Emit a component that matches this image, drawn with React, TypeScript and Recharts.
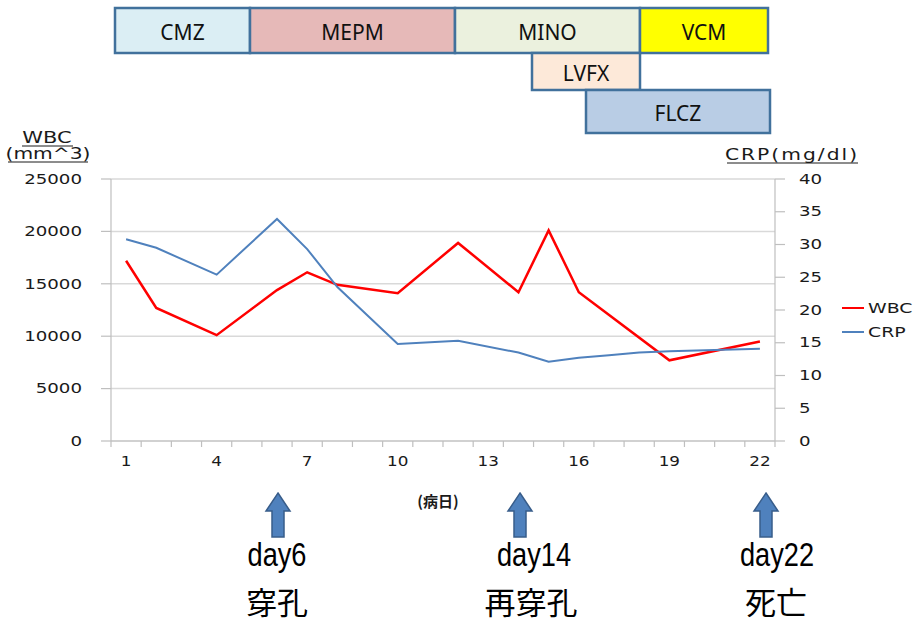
import React from 'react';
import { LineChart, Line, XAxis, YAxis, CartesianGrid, Legend } from 'recharts';

// ---------- data ----------
const days = [1, 2, 3, 4, 5, 6, 7, 8, 9, 10, 11, 12, 13, 14, 15, 16, 17, 18, 19, 20, 21, 22];
const wbcValues = [17200, 12700, null, 10100, null, 14400, 16100, 14900, null, 14100, null, 18900, null, 14200, 20100, 14200, null, null, 7700, null, null, 9500];
const crpValues = [30.8, 29.5, null, 25.4, null, 33.9, 29.3, 23.5, null, 14.8, null, 15.3, null, 13.5, 12.1, 12.7, 13.1, 13.5, 13.7, null, null, 14.1];
const wbcTicks = [0, 5000, 10000, 15000, 20000, 25000];
const crpTicks = [0, 5, 10, 15, 20, 25, 30, 35, 40];
const labeledDays = [1, 4, 7, 10, 13, 16, 19, 22];
const seriesNames = ['WBC', 'CRP'];
const seriesColors = ['#ff0000', '#4f81bd'];

const treatmentNames = ['CMZ', 'MEPM', 'MINO', 'VCM', 'LVFX', 'FLCZ'];
const treatmentFills = ['#dbeef4', '#e6b9b8', '#ebf1de', '#ffff00', '#fde9d9', '#b9cde5'];
const eventLabels = ['day6', 'day14', 'day22'];
const eventNotes = ['穿孔', '再穿孔', '死亡'];

const data = days.map((d, i) => ({ day: d, WBC: wbcValues[i], CRP: crpValues[i] }));

// ---------- layout ----------
const W = 924;
const H = 621;
const PLOT_LEFT = 111;
const PLOT_RIGHT = 775;
const PLOT_TOP = 179;
const PLOT_BOTTOM = 441;
const X_AXIS_H = 30;
const Y_AXIS_W = 60;
const BAND = (PLOT_RIGHT - PLOT_LEFT) / days.length;
const AXIS_COLOR = '#bfbfbf';
const GRID_COLOR = '#d9d9d9';
const TEXT_COLOR = '#1a1a1a';
const FONT = "'DejaVu Sans', Verdana, sans-serif";
const CJK = "'Noto Sans CJK JP', 'Noto Sans CJK SC', sans-serif";
const SANS = "'Liberation Sans', Arial, sans-serif";

const treatmentBoxes = [
  { x: 115, y: 8, w: 135, h: 45 },
  { x: 250, y: 8, w: 205, h: 45 },
  { x: 455, y: 8, w: 185, h: 45 },
  { x: 640, y: 8, w: 128, h: 45 },
  { x: 532, y: 53, w: 108, h: 37 },
  { x: 586, y: 90, w: 184, h: 43 },
];
const arrowX = [278, 520, 766];
const eventLabelX = [277, 534, 777];
const eventNoteX = [277, 531, 776];

function WideText(props: any) {
  const {
    x, y, sx = 1.3, anchor = 'start', size = 14, children, fill = TEXT_COLOR,
    weight = 'normal', family = FONT, baseline = 'central', spacing = 0,
  } = props;
  return (
    <text
      transform={`translate(${x},${y}) scale(${sx},1)`}
      x={0}
      y={0}
      textAnchor={anchor}
      dominantBaseline={baseline}
      fontSize={size}
      fontFamily={family}
      fontWeight={weight}
      fill={fill}
      letterSpacing={spacing}
    >
      {children}
    </text>
  );
}

function XTick(props: any) {
  const { x, y, payload, index } = props;
  const show = labeledDays.includes(payload.value);
  return (
    <g>
      <line x1={x - BAND / 2} x2={x - BAND / 2} y1={y} y2={y + 6} stroke={AXIS_COLOR} strokeWidth={1.2} />
      {index === days.length - 1 && (
        <line x1={x + BAND / 2} x2={x + BAND / 2} y1={y} y2={y + 6} stroke={AXIS_COLOR} strokeWidth={1.2} />
      )}
      {show && (
        <WideText x={x} y={y + 20} anchor="middle" sx={1.2} size={14}>
          {payload.value}
        </WideText>
      )}
    </g>
  );
}

function LeftTick(props: any) {
  const { x, y, payload } = props;
  return (
    <WideText x={x} y={y} anchor="end" sx={1.3} size={14}>
      {payload.value}
    </WideText>
  );
}

function RightTick(props: any) {
  const { x, y, payload } = props;
  return (
    <WideText x={x} y={y} anchor="start" sx={1.3} size={14}>
      {payload.value}
    </WideText>
  );
}

function LegendBox() {
  return (
    <svg width={86} height={50} style={{ display: 'block', overflow: 'visible' }}>
      {seriesNames.map((name, i) => (
        <g key={name}>
          <line x1={4} x2={26} y1={14 + i * 24} y2={14 + i * 24} stroke={seriesColors[i]} strokeWidth={2} />
          <WideText x={30} y={14 + i * 24} size={14} sx={1.35}>
            {name}
          </WideText>
        </g>
      ))}
    </svg>
  );
}

function Arrow({ cx }: { cx: number }) {
  const top = 493;
  const neck = 511;
  const bottom = 537;
  const hw = 12;
  const sw = 6;
  const pts = [
    [cx, top], [cx + hw, neck], [cx + sw, neck], [cx + sw, bottom],
    [cx - sw, bottom], [cx - sw, neck], [cx - hw, neck],
  ].map((p) => p.join(',')).join(' ');
  return <polygon points={pts} fill="#4f81bd" stroke="#385d8a" strokeWidth={1.5} />;
}

export default function App() {
  return (
    <div style={{ position: 'absolute', left: 0, top: 0, width: W, height: H, background: '#fff' }}>
      <LineChart
        width={W}
        height={H}
        data={data}
        margin={{
          top: PLOT_TOP,
          bottom: H - PLOT_BOTTOM - X_AXIS_H,
          left: PLOT_LEFT - Y_AXIS_W,
          right: W - PLOT_RIGHT - Y_AXIS_W,
        }}
      >
        <CartesianGrid yAxisId="left" vertical={false} stroke={GRID_COLOR} strokeWidth={1.5} />
        <XAxis
          dataKey="day"
          type="category"
          scale="band"
          interval={0}
          height={X_AXIS_H}
          tickSize={0}
          tickMargin={0}
          tickLine={false}
          axisLine={{ stroke: AXIS_COLOR, strokeWidth: 1.2 }}
          tick={XTick}
        />
        <YAxis
          yAxisId="left"
          domain={[0, 25000]}
          ticks={wbcTicks}
          width={Y_AXIS_W}
          tickSize={10}
          tickMargin={19}
          axisLine={{ stroke: AXIS_COLOR, strokeWidth: 1.2 }}
          tickLine={{ stroke: AXIS_COLOR, strokeWidth: 1.2 }}
          tick={LeftTick}
          interval={0}
        />
        <YAxis
          yAxisId="right"
          orientation="right"
          domain={[0, 40]}
          ticks={crpTicks}
          width={Y_AXIS_W}
          tickSize={10}
          tickMargin={14}
          axisLine={{ stroke: AXIS_COLOR, strokeWidth: 1.2 }}
          tickLine={{ stroke: AXIS_COLOR, strokeWidth: 1.2 }}
          tick={RightTick}
          interval={0}
        />
        <Line
          yAxisId="left"
          type="linear"
          dataKey="WBC"
          name={seriesNames[0]}
          stroke={seriesColors[0]}
          strokeWidth={2.5}
          dot={false}
          connectNulls
          isAnimationActive={false}
        />
        <Line
          yAxisId="right"
          type="linear"
          dataKey="CRP"
          name={seriesNames[1]}
          stroke={seriesColors[1]}
          strokeWidth={2}
          dot={false}
          connectNulls
          isAnimationActive={false}
        />
        <Legend
          layout="horizontal"
          align="center"
          verticalAlign="middle"
          wrapperStyle={{ left: 838, top: 294, width: 86, height: 50 }}
          content={() => <LegendBox />}
        />
      </LineChart>

      <svg
        width={W}
        height={H}
        style={{ position: 'absolute', left: 0, top: 0, pointerEvents: 'none' }}
      >
        {treatmentBoxes.map((b, i) => (
          <g key={treatmentNames[i]}>
            <rect x={b.x} y={b.y} width={b.w} height={b.h} fill={treatmentFills[i]} stroke="#41719c" strokeWidth={2.5} />
            <text
              x={b.x + b.w / 2}
              y={b.y + b.h / 2 + 1}
              textAnchor="middle"
              dominantBaseline="central"
              fontSize={21}
              fontFamily="'Noto Sans', 'Open Sans', sans-serif"
              fill="#111"
            >
              {treatmentNames[i]}
            </text>
          </g>
        ))}

        {/* axis titles */}
        <WideText x={47} y={138} anchor="middle" size={15} sx={1.4}>WBC</WideText>
        <line x1={22} x2={73} y1={146} y2={146} stroke={TEXT_COLOR} strokeWidth={1} />
        <WideText x={48} y={154} anchor="middle" size={15} sx={1.35}>(mm^3)</WideText>
        <line x1={8} x2={88} y1={162} y2={162} stroke={TEXT_COLOR} strokeWidth={1} />
        <WideText x={792} y={155} anchor="middle" size={15} sx={1.35} spacing={1.5}>CRP(mg/dl)</WideText>
        <line x1={727} x2={858} y1={163} y2={163} stroke={TEXT_COLOR} strokeWidth={1} />

        <text x={438} y={500} textAnchor="middle" dominantBaseline="central" fontSize={15} fontWeight="bold" fontFamily={CJK} fill={TEXT_COLOR}>
          (病日)
        </text>

        {arrowX.map((cx) => (
          <Arrow key={cx} cx={cx} />
        ))}
        {eventLabels.map((t, i) => (
          <WideText key={t} x={eventLabelX[i]} y={566} anchor="middle" baseline="alphabetic" size={34} sx={0.8} family={SANS} fill="#000">
            {t}
          </WideText>
        ))}
        {eventNotes.map((t, i) => (
          <text key={t} x={eventNoteX[i]} y={600} textAnchor="middle" dominantBaseline="central" fontSize={31} fontFamily={CJK} fill="#000">
            {t}
          </text>
        ))}
      </svg>
    </div>
  );
}
